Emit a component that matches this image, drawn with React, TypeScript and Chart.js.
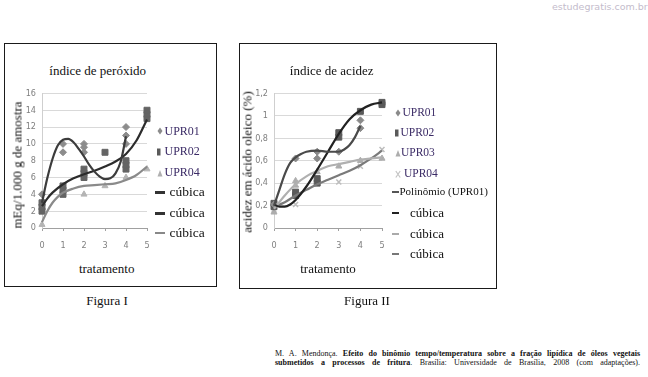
import React, { useEffect, useRef } from 'react';
import { Chart, registerables } from 'chart.js';
Chart.register(...registerables);

// ---------- Figura I : índice de peróxido ----------
const fig1XTicks = ['0', '1', '2', '3', '4', '5'];
const fig1YTicks = ['0', '2', '4', '6', '8', '10', '12', '14', '16'];
const fig1Upr01X = [0, 1, 1, 2, 2, 2, 4, 4, 4];
const fig1Upr01Y = [4, 10, 9, 10, 9.6, 9, 12, 11, 10];
const fig1Upr02X = [0, 0, 0, 1, 1, 1, 2, 2, 2, 3, 4, 4, 4, 5, 5, 5];
const fig1Upr02Y = [2, 2.5, 3, 4, 4.5, 5, 6, 6.5, 7, 9, 7, 7.5, 8, 13, 13.5, 14];
const fig1Upr04X = [0, 1, 2, 3, 4, 5];
const fig1Upr04Y = [0.4, 4, 4, 5, 6, 7];
const fig1Fit01X = [0, 0.25, 0.5, 0.75, 1, 1.25, 1.5, 1.75, 2, 2.25, 2.5, 2.75, 3, 3.25, 3.5, 3.75, 4];
const fig1Fit01Y = [3.0, 5.9, 8.2, 9.8, 10.5, 10.6, 10.2, 9.4, 8.5, 7.5, 6.7, 6.1, 5.8, 5.9, 6.5, 7.9, 10.9];
const fig1Fit02X = [0, 0.25, 0.5, 1, 1.5, 2, 2.5, 3, 3.5, 4, 4.5, 5];
const fig1Fit02Y = [2.6, 3.5, 4.2, 5.2, 5.9, 6.4, 6.8, 7.3, 7.9, 8.8, 10.4, 12.9];
const fig1Fit04X = [0, 0.25, 0.5, 0.75, 1, 1.5, 2, 2.5, 3, 3.5, 4, 4.5, 5];
const fig1Fit04Y = [0.7, 2.0, 3.0, 3.7, 4.2, 4.7, 5.0, 5.1, 5.2, 5.3, 5.7, 6.3, 7.3];

// ---------- Figura II : índice de acidez ----------
const fig2XTicks = ['0', '1', '2', '3', '4', '5'];
const fig2YTicks = ['0', '0,2', '0,4', '0,6', '0,8', '1', '1,2'];
const fig2Upr01X = [0, 1, 2, 2, 3, 4, 4];
const fig2Upr01Y = [0.21, 0.62, 0.68, 0.62, 0.68, 0.89, 0.96];
const fig2Upr02X = [0, 0, 1, 1, 2, 2, 3, 3, 4, 5, 5];
const fig2Upr02Y = [0.19, 0.22, 0.29, 0.32, 0.4, 0.44, 0.81, 0.85, 1.04, 1.1, 1.12];
const fig2Upr03X = [0, 1, 1, 2, 3, 4, 5];
const fig2Upr03Y = [0.14, 0.38, 0.42, 0.5, 0.55, 0.6, 0.62];
const fig2Upr04X = [0, 1, 2, 3, 4, 5];
const fig2Upr04Y = [0.16, 0.21, 0.4, 0.41, 0.55, 0.7];
const fig2PolyX = [0, 0.25, 0.5, 0.75, 1, 1.25, 1.5, 2, 2.5, 3, 3.25, 3.5, 3.75, 4];
const fig2PolyY = [0.2, 0.34, 0.48, 0.58, 0.63, 0.66, 0.68, 0.69, 0.68, 0.68, 0.7, 0.74, 0.81, 0.91];
const fig2Fit02X = [0, 0.25, 0.5, 0.75, 1, 1.5, 2, 2.5, 3, 3.5, 4, 4.5, 5];
const fig2Fit02Y = [0.21, 0.19, 0.19, 0.21, 0.25, 0.37, 0.52, 0.68, 0.84, 0.97, 1.05, 1.1, 1.12];
const fig2Fit03X = [0, 0.5, 1, 1.5, 2, 2.5, 3, 3.5, 4, 4.5, 5];
const fig2Fit03Y = [0.17, 0.29, 0.39, 0.46, 0.51, 0.55, 0.57, 0.59, 0.61, 0.62, 0.63];
const fig2Fit04X = [0, 0.5, 1, 1.5, 2, 2.5, 3, 3.5, 4, 4.5, 5];
const fig2Fit04Y = [0.19, 0.23, 0.29, 0.34, 0.39, 0.43, 0.47, 0.51, 0.56, 0.62, 0.69];

const pts = (xs: number[], ys: number[]) => xs.map((x, i) => ({ x, y: ys[i] }));

const SERIF = "'Liberation Serif', 'Times New Roman', serif";
const TICKFONT = { family: "'Liberation Sans Narrow', 'DejaVu Sans Condensed', sans-serif", size: 9 };

function markers(label: string, xs: number[], ys: number[], style: string, color: string, radius: number, bw = 1) {
  return {
    label,
    data: pts(xs, ys),
    showLine: false,
    pointStyle: style,
    pointRadius: radius,
    pointHoverRadius: radius,
    pointBackgroundColor: color,
    pointBorderColor: color,
    pointBorderWidth: bw,
    backgroundColor: color,
    borderColor: color,
    order: 2,
    clip: false,
  };
}

function curve(label: string, xs: number[], ys: number[], color: string) {
  return {
    label,
    data: pts(xs, ys),
    showLine: true,
    pointRadius: 0,
    pointHoverRadius: 0,
    borderColor: color,
    backgroundColor: color,
    borderWidth: 2.2,
    cubicInterpolationMode: 'monotone',
    fill: false,
    order: 0,
    clip: false,
  };
}

function makeConfig(datasets: any[], yMax: number, yStep: number, yLabels: string[], xLabels: string[], pad: any) {
  return {
    type: 'scatter',
    data: { datasets },
    options: {
      animation: false,
      responsive: false,
      maintainAspectRatio: false,
      devicePixelRatio: 1,
      layout: { padding: pad },
      plugins: { legend: { display: false }, title: { display: false }, tooltip: { enabled: false } },
      events: [],
      scales: {
        x: {
          type: 'linear',
          min: 0,
          max: 5,
          ticks: {
            stepSize: 1,
            color: '#7f7f7f',
            font: TICKFONT,
            padding: 9,
            maxRotation: 0,
            callback: (_v: any, i: number) => xLabels[i],
          },
          grid: { display: true, drawOnChartArea: false, drawTicks: true, tickLength: 3, color: '#a0a0a0' },
          border: { display: true, color: '#a0a0a0' },
          afterFit: (s: any) => { s.height = 30; },
        },
        y: {
          min: 0,
          max: yMax,
          ticks: {
            stepSize: yStep,
            color: '#7f7f7f',
            font: TICKFONT,
            padding: 6,
            callback: (_v: any, i: number) => yLabels[i],
          },
          grid: { color: '#d9d9d9', drawTicks: false },
          border: { display: true, color: '#cfcfcf' },
          afterFit: (s: any) => { s.width = 32; },
        },
      },
    },
  };
}

const Diamond = ({ c }: { c: string }) => (
  <svg width="6" height="8" style={{ display: 'block' }}><path d="M3 0.5 L5.5 4 L3 7.5 L0.5 4Z" fill={c} /></svg>
);
const Bar = ({ c }: { c: string }) => (
  <svg width="4" height="8" style={{ display: 'block' }}><rect x="0" y="0.5" width="3.5" height="7" fill={c} /></svg>
);
const Tri = ({ c }: { c: string }) => (
  <svg width="6" height="8" style={{ display: 'block' }}><path d="M3 1 L5.5 7.5 L0.5 7.5Z" fill={c} /></svg>
);
const Cross = ({ c }: { c: string }) => (
  <svg width="6" height="8" style={{ display: 'block' }}><path d="M0.8 1 L5.2 7.5 M5.2 1 L0.8 7.5" stroke={c} strokeWidth="1.2" /></svg>
);

function MarkItem({ x, y, mark, text, tx, size, color }: any) {
  return (
    <>
      <div style={{ position: 'absolute', left: x - 3, top: y - 4 }}>{mark}</div>
      <div style={{ position: 'absolute', left: tx, top: y - 0.51 * size, fontSize: size, lineHeight: size + 'px', color, whiteSpace: 'nowrap' }}>{text}</div>
    </>
  );
}

function LineItem({ x1, x2, y, c, text, tx, size, color = '#111' }: any) {
  return (
    <>
      <div style={{ position: 'absolute', left: x1, top: y - 1.2, width: x2 - x1, height: 2.4, background: c }} />
      <div style={{ position: 'absolute', left: tx, top: y - 0.55 * size, fontSize: size, lineHeight: size + 'px', color, whiteSpace: 'nowrap' }}>{text}</div>
    </>
  );
}

function Txt({ cx, baseline, size, children, bold }: any) {
  return (
    <div style={{ position: 'absolute', left: cx, top: baseline - 0.8375 * size, fontSize: size, lineHeight: size + 'px', transform: 'translateX(-50%)', whiteSpace: 'nowrap', color: '#111', fontWeight: bold ? 'bold' : 'normal' }}>{children}</div>
  );
}

function VTxt({ cx, cy, size, children }: any) {
  return (
    <div style={{ position: 'absolute', left: cx, top: cy, fontSize: size, lineHeight: size + 'px', transform: 'translate(-50%,-50%) rotate(-90deg)', whiteSpace: 'nowrap', color: '#111' }}>{children}</div>
  );
}

const UPRC = '#3b2b66';

export default function App() {
  const c1 = useRef<HTMLCanvasElement>(null);
  const c2 = useRef<HTMLCanvasElement>(null);

  useEffect(() => {
    const ds1 = [
      curve('cúbica', fig1Fit01X, fig1Fit01Y, '#3c3c3c'),
      curve('cúbica', fig1Fit02X, fig1Fit02Y, '#2c2c2c'),
      curve('cúbica', fig1Fit04X, fig1Fit04Y, '#8a8a8a'),
      markers('UPR01', fig1Upr01X, fig1Upr01Y, 'rectRot', '#8c8c8c', 3.5),
      markers('UPR02', fig1Upr02X, fig1Upr02Y, 'rect', '#646464', 4.2),
      markers('UPR04', fig1Upr04X, fig1Upr04Y, 'triangle', '#b4b4b4', 3.5),
    ];
    const ds2 = [
      curve('Polinômio (UPR01)', fig2PolyX, fig2PolyY, '#4a4a4a'),
      curve('cúbica', fig2Fit02X, fig2Fit02Y, '#222222'),
      curve('cúbica', fig2Fit03X, fig2Fit03Y, '#b0b0b0'),
      curve('cúbica', fig2Fit04X, fig2Fit04Y, '#7a7a7a'),
      markers('UPR01', fig2Upr01X, fig2Upr01Y, 'rectRot', '#8a8a8a', 3.5),
      markers('UPR02', fig2Upr02X, fig2Upr02Y, 'rect', '#5a5a5a', 4.2),
      markers('UPR03', fig2Upr03X, fig2Upr03Y, 'triangle', '#adadad', 3.5),
      markers('UPR04', fig2Upr04X, fig2Upr04Y, 'crossRot', '#bdbdbd', 3.5, 1.5),
    ];
    const ch1 = new Chart(c1.current as HTMLCanvasElement, makeConfig(ds1, 16, 2, fig1YTicks, fig1XTicks, { top: 9, right: 13, left: 0, bottom: 0 }) as any);
    const ch2 = new Chart(c2.current as HTMLCanvasElement, makeConfig(ds2, 1.2, 0.2, fig2YTicks, fig2XTicks, { top: 10, right: 15, left: 0, bottom: 0 }) as any);
    return () => { ch1.destroy(); ch2.destroy(); };
  }, []);

  return (
    <div style={{ position: 'absolute', left: 0, top: 0, width: 648, height: 377, background: '#fff', overflow: 'hidden', fontFamily: SERIF }}>
      {/* watermark */}
      <div style={{ position: 'absolute', left: 552, top: 2, fontFamily: "'DejaVu Sans', sans-serif", fontSize: 9.5, lineHeight: '9.5px', color: '#c4bccc', whiteSpace: 'nowrap' }}>estudegratis.com.br</div>

      {/* Figura I box */}
      <div style={{ position: 'absolute', left: 4, top: 43, width: 213, height: 244, border: '1px solid #1a1a1a', boxSizing: 'border-box' }} />
      <canvas ref={c1} width={150} height={176} style={{ position: 'absolute', left: 10, top: 82, width: 150, height: 176 }} />
      <Txt cx={97.7} baseline={75} size={13}>índice de peróxido</Txt>
      <VTxt cx={17.4} cy={165} size={13}>mEq/1.000 g de amostra</VTxt>
      <Txt cx={106.7} baseline={273} size={13}>tratamento</Txt>
      <MarkItem x={160} y={130.7} mark={<Diamond c="#8c8c8c" />} text="UPR01" tx={164.5} size={12} color={UPRC} />
      <MarkItem x={160} y={151.5} mark={<Bar c="#5a5a5a" />} text="UPR02" tx={164.5} size={12} color={UPRC} />
      <MarkItem x={160} y={172.5} mark={<Tri c="#b0b0b0" />} text="UPR04" tx={164.5} size={12} color={UPRC} />
      <LineItem x1={155} x2={165} y={192.5} c="#333" text="cúbica" tx={169.5} size={13.5} />
      <LineItem x1={155} x2={165} y={213.5} c="#333" text="cúbica" tx={169.5} size={13.5} />
      <LineItem x1={155} x2={165} y={233.3} c="#888" text="cúbica" tx={169.5} size={13.5} />
      <Txt cx={107} baseline={305} size={13}>Figura I</Txt>

      {/* Figura II box */}
      <div style={{ position: 'absolute', left: 239, top: 43, width: 258, height: 246, border: '1px solid #1a1a1a', boxSizing: 'border-box' }} />
      <canvas ref={c2} width={155} height={176} style={{ position: 'absolute', left: 242, top: 82, width: 155, height: 176 }} />
      <Txt cx={331.7} baseline={75} size={13}>índice de acidez</Txt>
      <VTxt cx={247.2} cy={161.7} size={13}>acidez em ácido oleico (%)</VTxt>
      <Txt cx={328} baseline={273.3} size={13}>tratamento</Txt>
      <MarkItem x={398} y={112.7} mark={<Diamond c="#8a8a8a" />} text="UPR01" tx={402.5} size={11.5} color={UPRC} />
      <MarkItem x={397.5} y={133.3} mark={<Bar c="#5a5a5a" />} text="UPR02" tx={400.5} size={11.5} color={UPRC} />
      <MarkItem x={397.5} y={153.3} mark={<Tri c="#adadad" />} text="UPR03" tx={401} size={11.5} color={UPRC} />
      <MarkItem x={397.5} y={174} mark={<Cross c="#c4c4c4" />} text="UPR04" tx={404} size={11.5} color={UPRC} />
      <LineItem x1={391.5} x2={398.5} y={191.7} c="#555" text="Polinômio (UPR01)" tx={399.5} size={11} />
      <LineItem x1={391.5} x2={398.5} y={212.7} c="#222" text="cúbica" tx={410} size={13} />
      <LineItem x1={391.5} x2={398.5} y={234.3} c="#aaa" text="cúbica" tx={410} size={13} />
      <LineItem x1={391.5} x2={398.5} y={254.3} c="#777" text="cúbica" tx={410} size={13} />
      <Txt cx={367} baseline={305} size={13}>Figura II</Txt>

      {/* citation */}
      <div style={{ position: 'absolute', left: 275, top: 350.3, width: 365, fontSize: 8, lineHeight: '8.7px', textAlign: 'justify', textAlignLast: 'justify', color: '#111' } as any}>
        M. A. Mendonça. <b>Efeito do binômio tempo/temperatura sobre a fração lipídica de óleos vegetais<br />submetidos a processos de fritura</b>. Brasília: Universidade de Brasília, 2008 (com adaptações).
      </div>
    </div>
  );
}
